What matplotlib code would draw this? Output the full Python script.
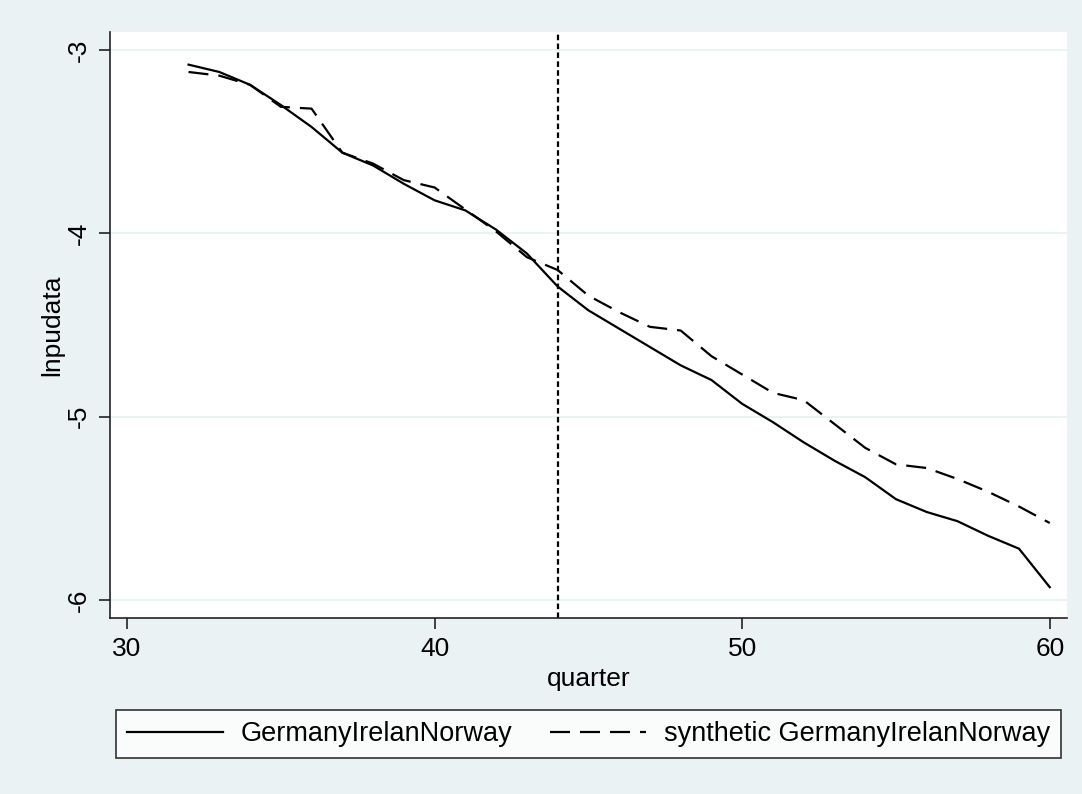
import numpy as np
import matplotlib
matplotlib.use("Agg")
import matplotlib.pyplot as plt

plt.rcParams['font.family'] = ['Liberation Sans', 'DejaVu Sans']

# data
quarter = list(range(32, 61))
actual = [-3.08, -3.12, -3.19, -3.30, -3.42, -3.56, -3.63, -3.73, -3.82, -3.875,
          -3.98, -4.11, -4.29, -4.42, -4.52, -4.62, -4.72, -4.80, -4.93, -5.03,
          -5.14, -5.24, -5.33, -5.45, -5.52, -5.57, -5.65, -5.72, -5.93]
synthetic = [-3.12, -3.14, -3.19, -3.31, -3.32, -3.56, -3.62, -3.71, -3.75, -3.87,
             -3.99, -4.13, -4.20, -4.34, -4.43, -4.51, -4.53, -4.67, -4.77, -4.87,
             -4.91, -5.04, -5.17, -5.26, -5.28, -5.34, -5.41, -5.49, -5.58]
treat_q = 44
xticks = [30, 40, 50, 60]
yticks = [-3, -4, -5, -6]

bg = '#EAF2F3'
fs = 19
fig = plt.figure(figsize=(10.82, 7.94), dpi=100, facecolor=bg)
ax = fig.add_axes([110/1082, 1 - 618/794, (1067-110)/1082, (618-32)/794])
ax.set_facecolor('white')

ax.plot(quarter, actual, color='black', lw=1.6, label='GermanyIrelanNorway')
ax.plot(quarter, synthetic, color='black', lw=1.6, ls=(0, (9, 4.5)),
        label='synthetic GermanyIrelanNorway')
ax.axvline(treat_q, color='black', lw=1.6, ls=(0, (2.5, 1.5)))

ax.set_xlim(29.447, 60.56)
ax.set_ylim(-6.098, -2.902)
ax.set_xticks(xticks)
ax.set_yticks(yticks)
ax.set_yticklabels([str(t) for t in yticks], rotation=90, va='center')
ax.grid(axis='y', color=bg, lw=1.5)
ax.set_axisbelow(True)

for s in ['top', 'right']:
    ax.spines[s].set_visible(False)
for s in ['left', 'bottom']:
    ax.spines[s].set_color('#222222')
    ax.spines[s].set_linewidth(1.2)
ax.tick_params(length=8, width=1.2, labelsize=fs, color='#222222', pad=6)

ax.set_xlabel('quarter', fontsize=fs, labelpad=4)
ax.set_ylabel('lnpudata', fontsize=fs, labelpad=2)

leg = fig.legend(loc='center', bbox_to_anchor=(588.5/1082, 1 - 734/794), ncol=2,
                 fontsize=19.5, frameon=True, fancybox=False, edgecolor='black',
                 handlelength=3.55, columnspacing=1.37, borderpad=0.42,
                 handletextpad=0.65)
leg.get_frame().set_linewidth(1.2)

fig.savefig('out.png', dpi=100, facecolor=bg)
